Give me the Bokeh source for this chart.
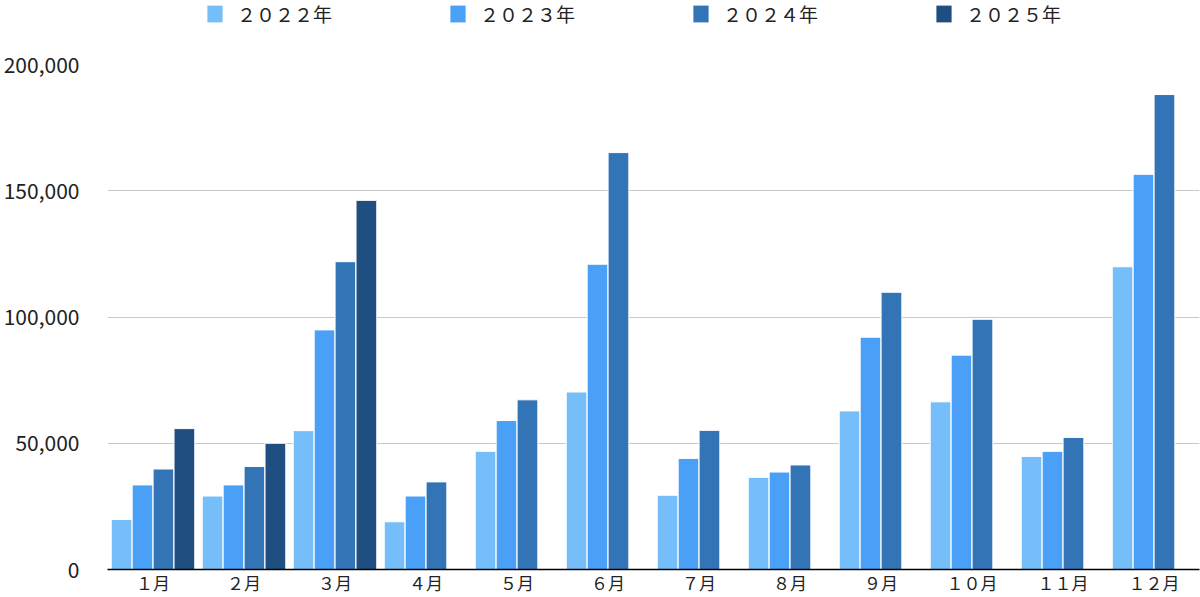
from bokeh.plotting import figure
from bokeh.layouts import column
from bokeh.models import (FactorRange, Range1d, FixedTicker, NumeralTickFormatter,
                          Legend, LegendItem, ColumnDataSource)
from bokeh.transform import dodge
from bokeh.embed import file_html
from bokeh.resources import INLINE

months = ["１月", "２月", "３月", "４月", "５月", "６月",
          "７月", "８月", "９月", "１０月", "１１月", "１２月"]
series_names = ["２０２２年", "２０２３年", "２０２４年", "２０２５年"]
y2022 = [19800, 29100, 55000, 18900, 46800, 70300, 29400, 36500, 62800, 66400, 44800, 119900]
y2023 = [33500, 33500, 94900, 29100, 59000, 120900, 44000, 38600, 92000, 84900, 46800, 156500]
y2024 = [39800, 40800, 121900, 34700, 67200, 165100, 55100, 41400, 109800, 99100, 52300, 188100]
y2025 = [55800, 50000, 146200]
months2025 = months[:3]
y_ticks = [0, 50000, 100000, 150000, 200000]

colors = ["#75BEFA", "#4AA0F6", "#3274B6", "#1F4E80"]
offsets = [-0.345, -0.115, 0.115, 0.345]
FONT = "Noto Sans CJK JP"

src = ColumnDataSource(dict(month=months, y2022=y2022, y2023=y2023, y2024=y2024))
src25 = ColumnDataSource(dict(month=months2025, y2025=y2025))
series = [("y2022", src), ("y2023", src), ("y2024", src), ("y2025", src25)]

# --- legend strip (series lie below this strip's view; only the legend shows) ---
lg = figure(width=1200, height=44, x_range=FactorRange(factors=months, range_padding=0),
            y_range=Range1d(400000, 500000),
            output_backend="svg", toolbar_location=None,
            x_axis_location=None, y_axis_location=None,
            min_border_left=0, min_border_right=0, min_border_top=0, min_border_bottom=0)
lg.outline_line_color = None
lg.grid.visible = False
legend_renderers = [lg.vbar(x=dodge("month", offsets[i], range=lg.x_range), top=col, width=0.228,
                            source=s, fill_color=colors[i], line_color=None)
                    for i, (col, s) in enumerate(series)]
legend = Legend(items=[LegendItem(label=n, renderers=[r]) for n, r in zip(series_names, legend_renderers)],
                location=(98, 17), orientation="horizontal",
                glyph_width=19, glyph_height=21, label_standoff=13, spacing=116,
                padding=0, margin=0, border_line_color=None, background_fill_alpha=0,
                label_text_font=FONT, label_text_font_size="19px", label_text_color="#222222")
lg.add_layout(legend)

# --- main chart ---
p = figure(x_range=FactorRange(factors=months, range_padding=0),
           y_range=Range1d(0, 200000),
           width=1200, height=553, output_backend="svg", toolbar_location=None,
           min_border_left=105, min_border_right=1, min_border_top=20, min_border_bottom=27)
p.outline_line_color = None
p.background_fill_color = "white"

for i, (col, s) in enumerate(series):
    p.vbar(x=dodge("month", offsets[i], range=p.x_range), top=col, width=0.228,
           source=s, fill_color=colors[i], line_color="white", line_width=1)

p.xgrid.grid_line_color = None
p.ygrid.grid_line_color = "#c8c8c8"
p.ygrid.grid_line_width = 1

p.yaxis.ticker = FixedTicker(ticks=y_ticks)
p.yaxis.formatter = NumeralTickFormatter(format="0,0")
p.yaxis.axis_line_color = None
p.yaxis.major_tick_line_color = None
p.yaxis.minor_tick_line_color = None
p.yaxis.major_label_standoff = 22
p.yaxis.major_label_text_font = FONT
p.yaxis.major_label_text_font_size = "21px"
p.yaxis.major_label_text_color = "#222222"

p.xaxis.axis_line_color = "black"
p.xaxis.axis_line_width = 1.5
p.xaxis.major_tick_line_color = None
p.xaxis.minor_tick_line_color = None
p.xaxis.major_tick_out = 0
p.xaxis.major_tick_in = 0
p.xaxis.major_label_standoff = 0
p.xaxis.major_label_text_font = FONT
p.xaxis.major_label_text_font_size = "17px"
p.xaxis.major_label_text_color = "#222222"

layout = column(lg, p, spacing=0)
open("out.html", "w").write(file_html(layout, INLINE))
